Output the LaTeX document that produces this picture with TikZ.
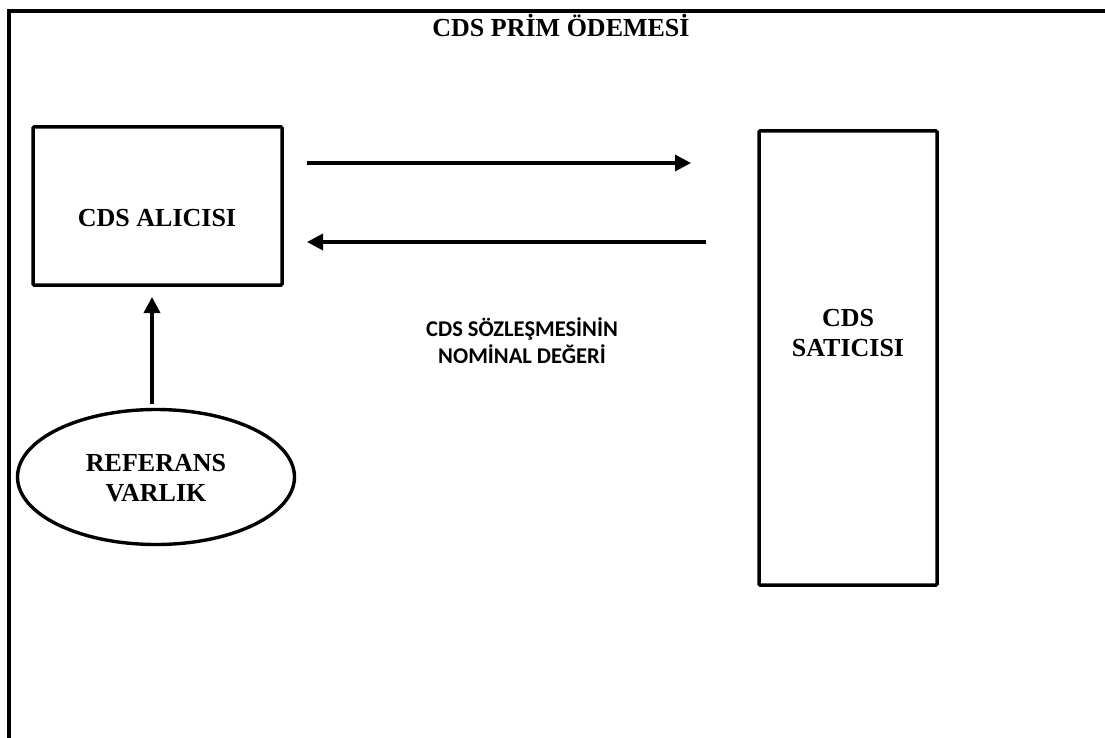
\documentclass[tikz,border=0pt]{standalone}
\usepackage{fontspec}
\setmainfont{Liberation Serif}
\newfontfamily\calibri{Carlito}
\usetikzlibrary{arrows.meta,shapes.geometric}
\begin{document}
\begin{tikzpicture}[x=1pt,y=-1pt,
  frameline/.style={line width=4.2pt},
  boxnode/.style={draw,line width=3.5pt,rounded corners=1pt,inner sep=0pt},
  flow/.style={line width=3.4pt,-{Triangle[length=16pt,width=16pt]}},
  lbl/.style={font=\bfseries\fontsize{26}{30}\selectfont,align=center},
  midlbl/.style={font=\calibri\bfseries\fontsize{22.5}{27}\selectfont,align=center}]
\useasboundingbox (0,0) rectangle (1105,738);
\fill[white] (0,0) rectangle (1105,738);
% open frame: left side and top edge
\draw[frameline] (9,738) -- (9,11) -- (1105,11);
\node[lbl,anchor=base] (title) at (561,37) {CDS PRİM ÖDEMESİ};
% buyer and seller boxes
\node[boxnode,minimum width=249pt,minimum height=158pt] (buyer) at (157.5,206) {};
\node[lbl] (buyertxt) at (157,218) {CDS ALICISI};
\node[boxnode,minimum width=178pt,minimum height=454pt] (seller) at (848,358) {};
\node[lbl] (sellertxt) at (848,333) {CDS\\SATICISI};
% reference entity
\node[draw,ellipse,line width=3.4pt,minimum width=277pt,minimum height=135pt,inner sep=0pt] (ref) at (156,477) {};
\node[lbl] (reftxt) at (156,478) {REFERANS\\VARLIK};
% notional value label
\node[midlbl] (notional) at (522,341) {CDS SÖZLEŞMESİNİN\\NOMİNAL DEĞERİ};
% flows between parties
\coordinate (a1s) at (307,163);
\coordinate (a1e) at (691,163);
\coordinate (a2s) at (706,242);
\coordinate (a2e) at (307,242);
\coordinate (v1) at (152,404);
\coordinate (v2) at (152,297);
\draw[flow] (a1s) -- (a1e);
\draw[flow] (a2s) -- (a2e);
\draw[flow] (v1) -- (v2);
\end{tikzpicture}
\end{document}
